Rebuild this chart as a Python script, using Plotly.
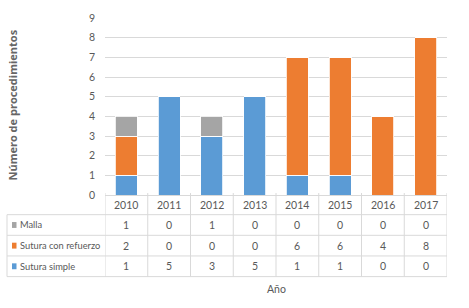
import plotly.graph_objects as go

years = ["2010", "2011", "2012", "2013", "2014", "2015", "2016", "2017"]
malla = [1, 0, 1, 0, 0, 0, 0, 0]
sutura_refuerzo = [2, 0, 0, 0, 6, 6, 4, 8]
sutura_simple = [1, 5, 3, 5, 1, 1, 0, 0]
y_ticks = list(range(0, 10))

BLUE = "#5B9BD5"
ORANGE = "#ED7D31"
GRAY = "#A5A5A5"
TXT = "#595959"
GRID = "#D9D9D9"
FONT = "Lato, Open Sans, sans-serif"

W, H = 469, 308
L, R, T, B = 105, 22, 15, 113
ph = H - T - B

def py(pix):
    # pixel y -> paper y
    return (H - B - pix) / ph

def px(pix):
    return (pix - L) / (W - L - R)

fig = go.Figure()
for name, vals, col in [("Sutura simple", sutura_simple, BLUE),
                        ("Sutura con refuerzo", sutura_refuerzo, ORANGE),
                        ("Malla", malla, GRAY)]:
    fig.add_trace(go.Bar(x=years, y=vals, name=name,
                         marker=dict(color=col, line=dict(color="white", width=0.8)),
                         width=0.52))

shapes = []
annotations = []
row_lines = [195, 215, 236, 257, 278]
shapes.append(dict(type="line", xref="paper", yref="paper", x0=0, x1=1, y0=py(195.5), y1=py(195.5),
                   line=dict(color=GRID, width=1)))
for yy in row_lines[1:]:
    shapes.append(dict(type="line", xref="paper", yref="paper", x0=px(7), x1=1, y0=py(yy), y1=py(yy),
                       line=dict(color=GRID, width=1)))
n = len(years)
for i in range(n + 1):
    xv = i - 0.5
    shapes.append(dict(type="line", xref="x", yref="paper", x0=xv, x1=xv, y0=py(193), y1=py(278),
                       line=dict(color=GRID, width=1)))
shapes.append(dict(type="line", xref="paper", yref="paper", x0=px(7), x1=px(7), y0=py(215), y1=py(278),
                   line=dict(color=GRID, width=1)))

for i, yr in enumerate(years):
    annotations.append(dict(x=i, y=py(205), xref="x", yref="paper", text=yr, showarrow=False,
                            font=dict(family=FONT, size=10.5, color=TXT), xanchor="center", yanchor="middle"))
rows = [("Malla", malla, GRAY), ("Sutura con refuerzo", sutura_refuerzo, ORANGE),
        ("Sutura simple", sutura_simple, BLUE)]
for r, (name, vals, col) in enumerate(rows):
    yc = (row_lines[r + 1] + row_lines[r + 2]) / 2
    shapes.append(dict(type="rect", xref="paper", yref="paper", x0=px(12), x1=px(16.5),
                       y0=py(yc + 3), y1=py(yc - 3), fillcolor=col, line=dict(width=0)))
    annotations.append(dict(x=px(18), y=py(yc), xref="paper", yref="paper", text=name, showarrow=False,
                            font=dict(family=FONT, size=9.3, color=TXT), xanchor="left", yanchor="middle"))
    for i, v in enumerate(vals):
        annotations.append(dict(x=i, y=py(yc), xref="x", yref="paper", text=str(v), showarrow=False,
                                font=dict(family=FONT, size=10.5, color=TXT), xanchor="center", yanchor="middle"))

annotations.append(dict(x=px(276), y=py(291), xref="paper", yref="paper", text="Año", showarrow=False,
                        font=dict(family=FONT, size=10.5, color=TXT), xanchor="center", yanchor="middle"))
annotations.append(dict(x=px(13), y=py(104), xref="paper", yref="paper", text="<b>Número de procedimientos</b>",
                        showarrow=False, textangle=-90,
                        font=dict(family="Open Sans, sans-serif", size=11, color="#666666"),
                        xanchor="center", yanchor="middle"))

fig.update_layout(
    width=W, height=H, margin=dict(l=L, r=R, t=T, b=B),
    barmode="stack", showlegend=False,
    plot_bgcolor="white", paper_bgcolor="white",
    xaxis=dict(type="category", showticklabels=False, showgrid=False, zeroline=False,
               range=[-0.5, n - 0.5], fixedrange=True),
    yaxis=dict(range=[0, 9], tickvals=y_ticks, showgrid=True, gridcolor=GRID, zeroline=False,
               tickfont=dict(family=FONT, size=10.5, color=TXT), ticks="", ticklabelstandoff=9),
    shapes=shapes, annotations=annotations,
)
fig.write_html("out.html", config={"displayModeBar": False},
               post_script="document.body.style.margin='0';document.body.style.overflow='hidden';")
